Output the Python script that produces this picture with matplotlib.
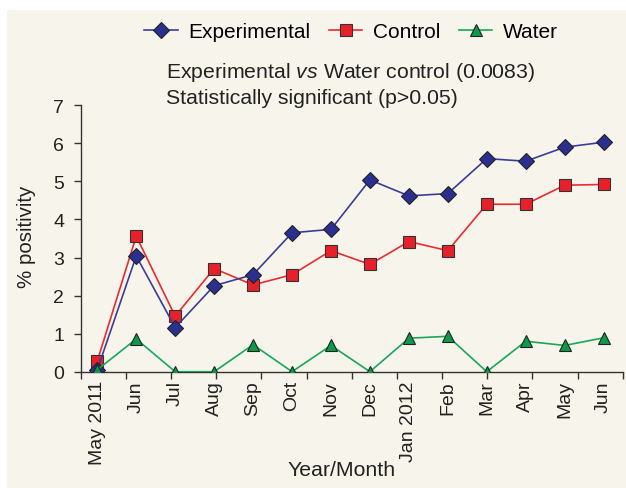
import numpy as np
import matplotlib
matplotlib.use("Agg")
import matplotlib.pyplot as plt
from matplotlib.patches import Rectangle

plt.rcParams['font.family'] = ['Liberation Sans', 'DejaVu Sans']
plt.rcParams['mathtext.fontset'] = 'custom'
plt.rcParams['mathtext.rm'] = 'Liberation Sans'
plt.rcParams['mathtext.it'] = 'Liberation Sans:italic'

months = ['May 2011', 'Jun', 'Jul', 'Aug', 'Sep', 'Oct', 'Nov', 'Dec',
          'Jan 2012', 'Feb', 'Mar', 'Apr', 'May', 'Jun']
experimental = [0.05, 3.04, 1.16, 2.26, 2.55, 3.65, 3.74, 5.04, 4.62, 4.68, 5.60, 5.53, 5.90, 6.03]
control = [0.28, 3.56, 1.46, 2.71, 2.28, 2.55, 3.18, 2.82, 3.42, 3.18, 4.40, 4.40, 4.90, 4.92]
water = [0.05, 0.86, 0.0, 0.0, 0.71, 0.0, 0.69, 0.0, 0.88, 0.93, 0.0, 0.80, 0.69, 0.89]

BG = '#f7f5eb'

fig = plt.figure(figsize=(6.26, 4.89), dpi=100, facecolor='white')
fig.patches.append(Rectangle((7 / 626, 0), 1, 1 - 11 / 489, transform=fig.transFigure,
                             facecolor=BG, edgecolor='none', zorder=-10))

ax = fig.add_axes([80.7 / 626, 116.3 / 489, 542 / 626, 266.4 / 489])
ax.set_facecolor(BG)
ax.patch.set_alpha(0)

x = np.arange(len(months))
ax.plot(x, experimental, color='#3a3d98', lw=1.2, marker='D', markersize=8,
        markerfacecolor='#2b3090', markeredgecolor='#222222', markeredgewidth=0.8,
        label='Experimental', zorder=3)
ax.plot(x, control, color='#ee2a2f', lw=1.2, marker='s', markersize=9,
        markerfacecolor='#e8202a', markeredgecolor='#333333', markeredgewidth=0.8,
        label='Control', zorder=2)
ax.plot(x, water, color='#17a85a', lw=1.2, marker='^', markersize=9,
        markerfacecolor='#0a9a4a', markeredgecolor='#222222', markeredgewidth=0.8,
        label='Water', zorder=4)

ax.set_ylim(0, 7)
ax.set_xlim(-0.426, 13.49)
ax.set_yticks(range(0, 8))
ax.set_xticks(x)
ax.set_xticklabels(months, rotation=90, fontsize=14, color='#222222')
ax.set_xticks(np.linspace(-0.426, 13.49, 13), minor=True)
ax.tick_params(axis='x', which='major', length=0, pad=6)
ax.tick_params(axis='x', which='minor', length=5, width=1, direction='out', color='#333333')
ax.tick_params(axis='y', labelsize=14, length=5, width=1, pad=7,
               colors='#333333', labelcolor='#222222')

for s in ['top', 'right']:
    ax.spines[s].set_visible(False)
for s in ['left', 'bottom']:
    ax.spines[s].set_color('#333333')
    ax.spines[s].set_linewidth(1)

fig.text(27 / 626, 1 - 237 / 489, '% positivity', rotation=90, fontsize=14.8,
         ha='center', va='center', color='#222222')
fig.text(342 / 626, 1 - 471 / 489, 'Year/Month', fontsize=15.3,
         ha='center', va='center', color='#222222')

fig.legend(loc='center', bbox_to_anchor=(351 / 626, 1 - 33 / 489), ncol=3,
           frameon=False, fontsize=15, handlelength=1.6, columnspacing=0.9,
           handletextpad=0.5)

fig.text(166 / 626, 1 - 73 / 489, r'Experimental $\it{vs}$ Water control (0.0083)',
         fontsize=15.3, ha='left', va='center', color='#222222')
fig.text(166 / 626, 1 - 98 / 489, 'Statistically significant (p>0.05)',
         fontsize=15.3, ha='left', va='center', color='#222222')

fig.savefig('out.png', dpi=100, facecolor=fig.get_facecolor())
